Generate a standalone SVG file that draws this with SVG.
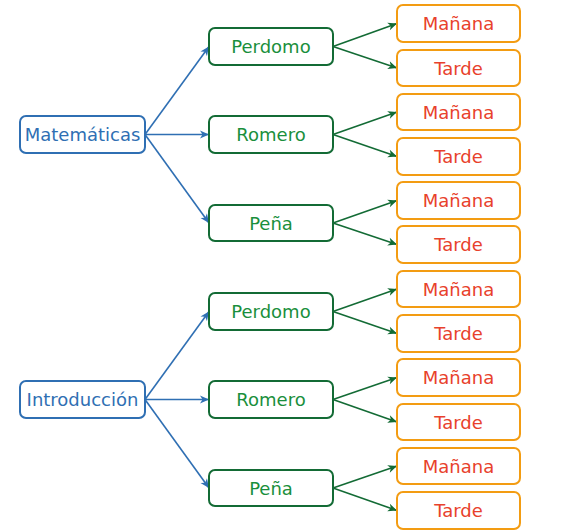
<svg xmlns="http://www.w3.org/2000/svg" width="572" height="530" viewBox="0 0 572 530">
<style>
text{font-family:"DejaVu Sans","Verdana",sans-serif;font-size:18px;text-anchor:middle;dominant-baseline:central}
.root rect{fill:#fff;stroke:#2f6fb3;stroke-width:2}
.root text{fill:#2f6fb3}
.mid rect{fill:#fff;stroke:#136b35;stroke-width:2}
.mid text{fill:#1a8f3c}
.leaf rect{fill:#fff;stroke:#f39c12;stroke-width:2}
.leaf text{fill:#e8412c}
.cb{stroke:#2f6fb3;stroke-width:1.6;fill:none;marker-end:url(#ab)}
.cg{stroke:#136b35;stroke-width:1.6;fill:none;marker-end:url(#ag)}
</style>
<defs>
<marker id="ab" markerWidth="12" markerHeight="12" refX="10" refY="6" orient="auto" markerUnits="userSpaceOnUse"><path d="M1,2 L10,6 L1,10 L3.5,6 Z" fill="#2f6fb3"/></marker>
<marker id="ag" markerWidth="12" markerHeight="12" refX="10" refY="6" orient="auto" markerUnits="userSpaceOnUse"><path d="M1,2 L10,6 L1,10 L3.5,6 Z" fill="#136b35"/></marker>
</defs>
<g id="connectors">
<path class="cb" d="M145,134.5 L209,46.5"/>
<path class="cb" d="M145,134.5 L209,134.5"/>
<path class="cb" d="M145,134.5 L209,223"/>
<path class="cb" d="M145,399.5 L209,311.5"/>
<path class="cb" d="M145,399.5 L209,399.5"/>
<path class="cb" d="M145,399.5 L209,488"/>
<path class="cg" d="M333,46.5 L397,23.5"/>
<path class="cg" d="M333,46.5 L397,68"/>
<path class="cg" d="M333,134.5 L397,112"/>
<path class="cg" d="M333,134.5 L397,156.5"/>
<path class="cg" d="M333,223 L397,200.5"/>
<path class="cg" d="M333,223 L397,244.5"/>
<path class="cg" d="M333,311.5 L397,289"/>
<path class="cg" d="M333,311.5 L397,333.5"/>
<path class="cg" d="M333,399.5 L397,377.5"/>
<path class="cg" d="M333,399.5 L397,422"/>
<path class="cg" d="M333,488 L397,466"/>
<path class="cg" d="M333,488 L397,510.5"/>
</g>
<g id="n-matematicas" class="root"><rect x="20" y="116" width="125" height="37" rx="6"/><text x="82.5" y="134.5">Matemáticas</text></g>
<g id="n-introduccion" class="root"><rect x="20" y="381" width="125" height="37" rx="6"/><text x="82.5" y="399.5">Introducción</text></g>
<g id="n-perdomo1" class="mid"><rect x="209" y="28" width="124" height="37" rx="6"/><text x="271" y="46.5">Perdomo</text></g>
<g id="n-romero1" class="mid"><rect x="209" y="116" width="124" height="37" rx="6"/><text x="271" y="134.5">Romero</text></g>
<g id="n-pena1" class="mid"><rect x="209" y="205" width="124" height="36" rx="6"/><text x="271" y="223">Peña</text></g>
<g id="n-perdomo2" class="mid"><rect x="209" y="293" width="124" height="37" rx="6"/><text x="271" y="311.5">Perdomo</text></g>
<g id="n-romero2" class="mid"><rect x="209" y="381" width="124" height="37" rx="6"/><text x="271" y="399.5">Romero</text></g>
<g id="n-pena2" class="mid"><rect x="209" y="470" width="124" height="36" rx="6"/><text x="271" y="488">Peña</text></g>
<g id="n-m1" class="leaf"><rect x="397" y="5" width="123" height="37" rx="6"/><text x="458.5" y="23.5">Mañana</text></g>
<g id="n-t1" class="leaf"><rect x="397" y="50" width="123" height="36" rx="6"/><text x="458.5" y="68">Tarde</text></g>
<g id="n-m2" class="leaf"><rect x="397" y="94" width="123" height="36" rx="6"/><text x="458.5" y="112">Mañana</text></g>
<g id="n-t2" class="leaf"><rect x="397" y="138" width="123" height="37" rx="6"/><text x="458.5" y="156.5">Tarde</text></g>
<g id="n-m3" class="leaf"><rect x="397" y="182" width="123" height="37" rx="6"/><text x="458.5" y="200.5">Mañana</text></g>
<g id="n-t3" class="leaf"><rect x="397" y="226" width="123" height="37" rx="6"/><text x="458.5" y="244.5">Tarde</text></g>
<g id="n-m4" class="leaf"><rect x="397" y="271" width="123" height="36" rx="6"/><text x="458.5" y="289">Mañana</text></g>
<g id="n-t4" class="leaf"><rect x="397" y="315" width="123" height="37" rx="6"/><text x="458.5" y="333.5">Tarde</text></g>
<g id="n-m5" class="leaf"><rect x="397" y="359" width="123" height="37" rx="6"/><text x="458.5" y="377.5">Mañana</text></g>
<g id="n-t5" class="leaf"><rect x="397" y="404" width="123" height="36" rx="6"/><text x="458.5" y="422">Tarde</text></g>
<g id="n-m6" class="leaf"><rect x="397" y="448" width="123" height="36" rx="6"/><text x="458.5" y="466">Mañana</text></g>
<g id="n-t6" class="leaf"><rect x="397" y="492" width="123" height="37" rx="6"/><text x="458.5" y="510.5">Tarde</text></g>
</svg>
